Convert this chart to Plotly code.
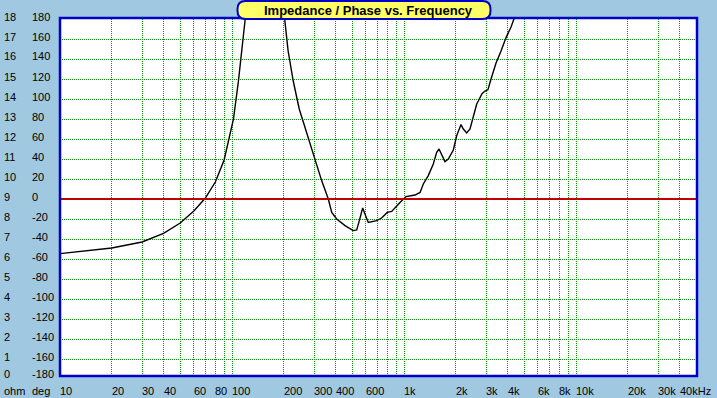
import math
import plotly.graph_objects as go

# ---- data ----
freq_hz = [10, 20, 30, 40, 50, 60, 70, 80, 90, 100, 102, 109, 114, 119, 135, 155,
           180, 203, 212, 227, 246, 284, 332, 363, 380, 406, 454, 507, 531, 550,
           575, 593, 620, 693, 741, 799, 848, 948, 1028, 1159, 1240, 1295, 1384,
           1480, 1549, 1598, 1656, 1730, 1810, 1935, 2025, 2097, 2145, 2212, 2315,
           2420, 2530, 2647, 2704, 2841, 2958, 3078, 3206, 3428, 3666, 3920, 4192,
           4364, 4700]
impedance_ohm = [6.27, 6.55, 6.85, 7.28, 7.8, 8.4, 9.05, 9.85, 10.95, 12.55, 13.0, 14.9,
                 16.4, 17.9, 26.0, 32.0, 26.0, 17.9, 16.4, 14.9, 13.5, 11.8, 9.92,
                 9.0, 8.33, 8.0, 7.67, 7.42, 7.45, 7.92, 8.55, 8.25, 7.83, 7.92, 8.05,
                 8.33, 8.38, 8.83, 9.12, 9.2, 9.33, 9.75, 10.17, 10.75, 11.33, 11.5,
                 11.25, 10.87, 11.0, 11.45, 12.17, 12.5, 12.72, 12.5, 12.3, 12.5,
                 13.17, 13.75, 13.9, 14.27, 14.4, 14.47, 15.0, 15.8, 16.4, 17.07,
                 17.6, 18.0, 18.8]

ohm_labels = [str(i) for i in range(0, 19)]
deg_labels = [str(d) for d in range(-180, 181, 20)]
x_tick_freqs = [10, 20, 30, 40, 60, 80, 100, 200, 300, 400, 600, 1000, 2000,
                3000, 4000, 6000, 8000, 10000, 20000, 30000, 40000]
x_tick_labels = ["10", "20", "30", "40", "60", "80", "100", "200", "300", "400",
                 "600", "1k", "2k", "3k", "4k", "6k", "8k", "10k", "20k", "30k", "40kHz"]
title_text = "Impedance / Phase vs. Frequency"

# ---- layout geometry (pixels) ----
W, H = 717, 398
L, R, T, B = 60, 20, 19, 22
PW, PH = W - L - R, H - T - B
X0_LOG = 1.0
PX_PER_DEC = 172.0
X1_LOG = X0_LOG + PW / PX_PER_DEC
PX_PER_OHM = 20.0
Y_TOP = 18.0
Y_BOT = Y_TOP - PH / PX_PER_OHM

def pxx(px):
    return (px - L) / PW

def pxy(py):
    return (T + PH - py) / PH

BLUE = "#0000C8"
GREEN = "#009a00"
RED = "#C00000"
BG = "#A0C8E0"
YELLOW = "#FFFF66"
FONT = "Liberation Sans"

grid_x = [m * 10 ** e for e in range(1, 5) for m in range(1, 10)]
grid_x = [g for g in grid_x if 10 < g < 50000]

fig = go.Figure()
fig.add_trace(go.Scatter(x=freq_hz, y=impedance_ohm, mode="lines",
                         line=dict(color="black", width=1.4), hoverinfo="skip",
                         showlegend=False))

fig.update_xaxes(type="log", range=[X0_LOG, X1_LOG], tickvals=grid_x,
                 showticklabels=False, ticks="", showgrid=True, gridcolor=GREEN,
                 griddash="1px,1px", gridwidth=1, zeroline=False, showline=False)
fig.update_yaxes(range=[Y_BOT, Y_TOP], tickvals=list(range(1, 18)),
                 showticklabels=False, ticks="", showgrid=True, gridcolor=GREEN,
                 griddash="1px,1px", gridwidth=1, zeroline=False, showline=False)

shapes = []
# zero-phase line (9 ohm on the shared scale)
shapes.append(dict(type="line", xref="paper", yref="y", x0=0, x1=1, y0=9, y1=9,
                   line=dict(color=RED, width=2), layer="above"))
# plot border
shapes.append(dict(type="rect", xref="paper", yref="paper", x0=0, x1=pxx(697),
                   y0=pxy(376), y1=pxy(18), line=dict(color=BLUE, width=2.5),
                   fillcolor="rgba(0,0,0,0)", layer="above"))
# rounded title box
bx0, bx1, by0, by1, r = 237.5, 490.5, 1.0, 19.0, 8.0
pts = [
    ("M", bx0 + r, by0), ("L", bx1 - r, by0), ("Q", bx1, by0, bx1, by0 + r),
    ("L", bx1, by1 - r), ("Q", bx1, by1, bx1 - r, by1), ("L", bx0 + r, by1),
    ("Q", bx0, by1, bx0, by1 - r), ("L", bx0, by0 + r), ("Q", bx0, by0, bx0 + r, by0),
]
path = ""
for p in pts:
    cmd = p[0]
    coords = p[1:]
    segs = []
    for i in range(0, len(coords), 2):
        segs.append(f"{pxx(coords[i]):.5f},{pxy(coords[i+1]):.5f}")
    path += cmd + " ".join(segs) + " "
path += "Z"
shapes.append(dict(type="path", xref="paper", yref="paper", path=path,
                   fillcolor=YELLOW, line=dict(color=BLUE, width=2), layer="above"))

annotations = []
lab_font = dict(family=FONT, size=11, color="black")
for i, (o, d) in enumerate(zip(ohm_labels, deg_labels)):
    gy = T + (Y_TOP - i) * PX_PER_OHM
    cy = min(gy - 2.5, 374.0)
    annotations.append(dict(text=o, xref="paper", yref="paper", x=pxx(2), y=pxy(cy),
                            xanchor="left", yanchor="middle", showarrow=False,
                            font=lab_font))
    annotations.append(dict(text=d, xref="paper", yref="paper", x=pxx(30), y=pxy(cy),
                            xanchor="left", yanchor="middle", showarrow=False,
                            font=lab_font))
annotations.append(dict(text="ohm", xref="paper", yref="paper", x=pxx(2), y=pxy(391),
                        xanchor="left", yanchor="middle", showarrow=False, font=lab_font))
annotations.append(dict(text="deg", xref="paper", yref="paper", x=pxx(30), y=pxy(391),
                        xanchor="left", yanchor="middle", showarrow=False, font=lab_font))
for f, t in zip(x_tick_freqs, x_tick_labels):
    annotations.append(dict(text=t, xref="x", yref="paper", x=math.log10(f), y=pxy(391),
                            xanchor="left", yanchor="middle", xshift=-2, showarrow=False,
                            font=lab_font))
annotations.append(dict(text="<b>" + title_text + "</b>", xref="paper", yref="paper",
                        x=pxx(368), y=pxy(10), xanchor="center", yanchor="middle",
                        showarrow=False,
                        font=dict(family=FONT, size=13, color="black")))

fig.update_layout(width=W, height=H, margin=dict(l=L, r=R, t=T, b=B, pad=0),
                  paper_bgcolor=BG, plot_bgcolor="white", shapes=shapes,
                  annotations=annotations, showlegend=False)

fig.write_html("out.html", config={"displayModeBar": False},
               post_script="document.body.style.margin='0';document.body.style.padding='0';"
                           "document.body.style.overflow='hidden';")
